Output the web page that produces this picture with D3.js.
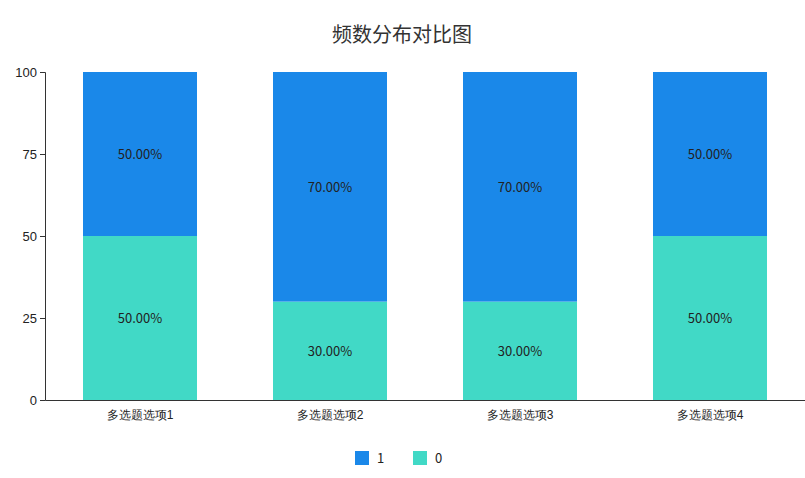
<!DOCTYPE html>
<html><head><meta charset="utf-8">
<script src="https://cdn.jsdelivr.net/npm/d3@7"></script>
<style>body{margin:0;background:#fff;font-family:"Noto Sans CJK SC","Microsoft YaHei",sans-serif;}</style>
</head><body><svg id="c" width="805" height="478"></svg>
<script>
const categories=["多选题选项1","多选题选项2","多选题选项3","多选题选项4"];
const series0=[50,30,30,50];
const series1=[50,70,70,50];
const yTicks=[0,25,50,75,100];
const colors={"1":"#1a88e9","0":"#41d9c6"};
const svg=d3.select("#c");
const m={l:45,r:805,t:72,b:400};
const x=d3.scaleBand().domain(categories).range([m.l,m.r]).paddingInner(0.4).paddingOuter(0.2);
const y=d3.scaleLinear().domain([0,100]).range([m.b,m.t]);
svg.append("text").attr("x",402).attr("y",42).attr("text-anchor","middle").attr("font-size",20).attr("fill","#333").text("频数分布对比图");
const g=svg.append("g");
categories.forEach((c,i)=>{
  const v0=series0[i],v1=series1[i];
  g.append("rect").attr("x",x(c)).attr("width",x.bandwidth()).attr("y",y(v0)).attr("height",y(0)-y(v0)).attr("fill",colors["0"]);
  g.append("rect").attr("x",x(c)).attr("width",x.bandwidth()).attr("y",y(v0+v1)).attr("height",y(v0)-y(v0+v1)).attr("fill",colors["1"]);
  g.append("text").attr("x",x(c)+x.bandwidth()/2).attr("y",y(v0/2)+5).attr("text-anchor","middle").attr("font-size",13).attr("fill","#222").text(v0.toFixed(2)+"%");
  g.append("text").attr("x",x(c)+x.bandwidth()/2).attr("y",y(v0+v1/2)+5).attr("text-anchor","middle").attr("font-size",13).attr("fill","#222").text(v1.toFixed(2)+"%");
});
const ya=svg.append("g").attr("transform",`translate(${m.l},0)`).call(d3.axisLeft(y).tickValues(yTicks).tickSize(5));
ya.selectAll("text").attr("font-size",13).attr("fill","#222");
ya.selectAll("path,line").attr("stroke","#333");
const xa=svg.append("g").attr("transform",`translate(0,${m.b})`).call(d3.axisBottom(x).tickSize(0).tickPadding(10));
xa.selectAll("text").attr("font-size",12).attr("fill","#222");
xa.select("path").attr("stroke","#333");
const leg=[["1",355],["0",413]];
leg.forEach(([k,lx])=>{
  svg.append("rect").attr("x",lx).attr("y",451).attr("width",14).attr("height",14).attr("fill",colors[k]);
  svg.append("text").attr("x",lx+22).attr("y",463).attr("font-size",13).attr("fill","#222").text(k);
});
</script></body></html>
